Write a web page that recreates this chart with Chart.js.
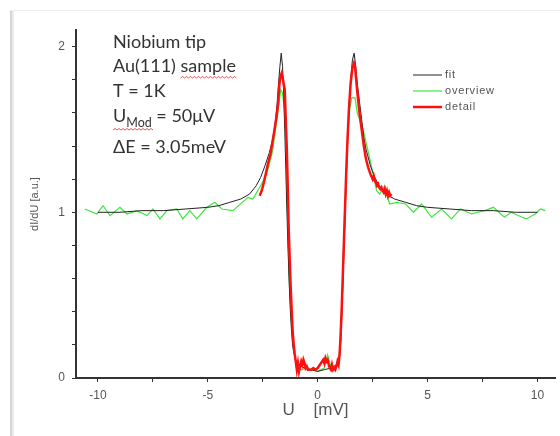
<!DOCTYPE html>
<html>
<head>
<meta charset="utf-8">
<script src="https://cdn.jsdelivr.net/npm/chart.js@4.4.0/dist/chart.umd.min.js"></script>
<style>
  html, body { margin: 0; padding: 0; background: #fff; }
  #wrap { position: relative; width: 560px; height: 436px; }
</style>
</head>
<body>
<div id="wrap"><canvas id="chart" width="560" height="436"></canvas></div>
<script>
    'use strict';

    // fit curve (black)
    var fitX = [-10, -9, -8, -7, -6, -5, -4.5, -4, -3.5, -3.1, -2.8, -2.6, -2.4, -2.2, -2.05, -1.95, -1.85, -1.78,
        -1.72, -1.66, -1.6, -1.55, -1.5, -1.45, -1.4, -1.35, -1.3, -1.25, -1.2, -1.15, -1.1, -1.0, -0.85, -0.6,
        -0.3, 0, 0.3, 0.6, 0.85, 1.0, 1.05, 1.1, 1.15, 1.2, 1.25, 1.3, 1.36, 1.42, 1.5, 1.58, 1.66, 1.73,
        1.8, 1.9, 2.0, 2.1, 2.2, 2.4, 2.6, 2.8, 3.1, 3.5, 4, 4.5, 5, 6, 7, 8, 9, 10];
    var fitY = [1.00, 1.00, 1.01, 1.01, 1.02, 1.03, 1.04, 1.06, 1.08, 1.11, 1.16, 1.21, 1.28, 1.36, 1.44, 1.52, 1.65, 1.78,
        1.88, 1.96, 1.88, 1.72, 1.50, 1.25, 1.00, 0.78, 0.58, 0.42, 0.30, 0.21, 0.16, 0.11, 0.08, 0.06,
        0.05, 0.04, 0.05, 0.06, 0.08, 0.13, 0.22, 0.38, 0.58, 0.80, 1.00, 1.20, 1.42, 1.62, 1.80, 1.92, 1.96, 1.88,
        1.78, 1.67, 1.56, 1.45, 1.38, 1.28, 1.21, 1.16, 1.11, 1.08, 1.06, 1.04, 1.03, 1.02, 1.01, 1.01, 1.00, 1.00];

    // overview measurement (green)
    var overviewX = [-10.6, -10.05, -9.77, -9.45, -9.0, -8.68, -8.23, -7.77, -7.5, -7.18, -6.86, -6.41, -6.14, -5.82,
        -5.5, -5.05, -4.68, -4.36, -3.86, -3.18, -2.95, -2.64, -2.32, -2.05, -1.82, -1.68, -1.6, -1.52, -1.45, -1.4,
        -1.35, -1.3, -1.2, -1.1, -1.0, -0.9, -0.7, -0.5, -0.3, 0, 0.3, 0.45, 0.6, 0.8, 0.95, 1.05, 1.15, 1.25, 1.35,
        1.45, 1.55, 1.7, 1.8, 2.05, 2.36, 2.68, 2.82, 3.05, 3.27, 3.6, 4.0, 4.36, 4.73, 5.18, 5.64, 6.09, 6.5, 7.0,
        7.3, 7.6, 8.0, 8.5, 8.8, 9.3, 9.5, 9.9, 10.14, 10.36];
    var overviewY = [1.02, 0.99, 1.04, 0.98, 1.03, 0.99, 1.01, 0.98, 1.02, 0.96, 1.01, 1.02, 0.96, 1.01,
        0.96, 1.03, 1.06, 1.02, 1.01, 1.09, 1.08, 1.15, 1.23, 1.37, 1.60, 1.74, 1.72, 1.62, 1.45, 1.15,
        0.85, 0.60, 0.35, 0.18, 0.10, 0.06, 0.05, 0.07, 0.05, 0.04, 0.06, 0.14, 0.07, 0.05, 0.10, 0.25, 0.60, 1.00, 1.40,
        1.62, 1.69, 1.69, 1.60, 1.51, 1.33, 1.13, 1.11, 1.16, 1.05, 1.06, 1.05, 1.00, 1.05, 0.97, 1.02, 0.96, 1.02, 0.99,
        1.00, 1.01, 1.03, 0.97, 1.00, 0.97, 0.96, 0.99, 1.02, 1.01];

    // detail measurement (red)
    var detailX = [-2.64, -2.55, -2.45, -2.35, -2.25, -2.15, -2.05, -1.95, -1.85, -1.8, -1.75, -1.7, -1.64, -1.58,
        -1.5, -1.45, -1.41, -1.36, -1.32, -1.27, -1.23, -1.18, -1.14, -1.09, -1.05, -1.0, -0.95, -0.9, -0.85, -0.8,
        -0.75, -0.7, -0.65, -0.6, -0.55, -0.5, -0.45, -0.4, -0.3, -0.2, -0.1, 0, 0.1, 0.2, 0.25, 0.3, 0.35, 0.4, 0.45,
        0.5, 0.55, 0.6, 0.65, 0.7, 0.75, 0.8, 0.85, 0.9, 0.95, 1.0, 1.05, 1.1, 1.15, 1.2, 1.25, 1.3, 1.36, 1.42, 1.5,
        1.58, 1.65, 1.7, 1.75, 1.8, 1.9, 2.0, 2.1, 2.2, 2.3, 2.4, 2.5, 2.55, 2.6, 2.65, 2.7, 2.75, 2.8, 2.85, 2.9,
        2.95, 3.0, 3.05, 3.1, 3.15, 3.2, 3.25, 3.3, 3.36];
    var detailY = [1.10, 1.13, 1.18, 1.24, 1.30, 1.35, 1.43, 1.51, 1.60, 1.66, 1.76, 1.82, 1.84, 1.80,
        1.74, 1.55, 1.40, 1.15, 0.90, 0.70, 0.55, 0.40, 0.28, 0.20, 0.15, 0.10, 0.05, 0.09, 0.04, 0.07,
        0.10, 0.08, 0.11, 0.09, 0.06, 0.07, 0.05, 0.05, 0.05, 0.06, 0.05, 0.06, 0.08, 0.10, 0.11, 0.09, 0.12, 0.10, 0.11,
        0.08, 0.06, 0.05, 0.08, 0.05, 0.06, 0.05, 0.07, 0.10, 0.08, 0.15, 0.28, 0.45, 0.65, 0.85, 1.05, 1.25, 1.45, 1.62, 1.78,
        1.87, 1.90, 1.88, 1.80, 1.73, 1.60, 1.50, 1.40, 1.32, 1.27, 1.23, 1.20, 1.22, 1.19, 1.18, 1.16, 1.17, 1.15, 1.14, 1.15,
        1.13, 1.12, 1.14, 1.11, 1.13, 1.10, 1.12, 1.10, 1.11];

    var xTicks = [-10, -7.5, -5, -2.5, 0, 2.5, 5, 7.5, 10];
    var yTicks = [0, 0.2, 0.4, 0.6, 0.8, 1, 1.2, 1.4, 1.6, 1.8, 2];

    var noteLines = ['Niobium tip', 'Au(111) sample', 'T = 1K', '', '\u0394E = 3.05meV'];

    function toPoints(xs, ys) {
        return xs.map(function (x, i) {
            return {x: x, y: ys[i]};
        });
    }

    var axisColor = '#333';
    var labelColor = '#555';

    // page frame: light border on the left and top
    var framePlugin = {
        id: 'frame',
        beforeDraw: function (chart) {
            var ctx = chart.ctx;
            ctx.save();
            ctx.fillStyle = '#fff';
            ctx.fillRect(0, 0, chart.width, chart.height);
            ctx.fillStyle = '#d6d6d6';
            ctx.fillRect(10, 10, 2, chart.height - 10);
            ctx.fillStyle = '#ececec';
            ctx.fillRect(12, 10, 2, chart.height - 10);
            ctx.fillRect(10, 10, chart.width - 10, 1);
            ctx.restore();
        }
    };

    function squiggle(ctx, x0, x1, y) {
        ctx.beginPath();
        ctx.moveTo(x0, y);
        for (var x = x0, up = true; x < x1; x += 2, up = !up) {
            ctx.lineTo(x + 2, up ? y - 1.5 : y);
        }
        ctx.stroke();
    }

    // text box and legend
    var notesPlugin = {
        id: 'notes',
        afterDraw: function (chart) {
            var ctx = chart.ctx;
            var font = '18px Lato';
            ctx.save();
            ctx.fillStyle = '#333';
            ctx.textBaseline = 'alphabetic';
            ctx.textAlign = 'left';
            ctx.font = font;
            ctx.fillText(noteLines[0], 113, 48);
            ctx.fillText(noteLines[1], 113, 72);
            ctx.fillText(noteLines[2], 113, 97);
            ctx.fillText('U', 113, 122);
            var uw = ctx.measureText('U').width;
            ctx.font = '12.5px Lato';
            ctx.fillText('Mod', 113 + uw, 127);
            var mw = ctx.measureText('Mod').width;
            ctx.font = font;
            ctx.fillText(' = 50\u03bcV', 113 + uw + mw, 122);
            ctx.fillText(noteLines[4], 113, 153);

            var sw = ctx.measureText('Au(111) ').width;
            var sw2 = ctx.measureText('Au(111) sample').width;
            ctx.strokeStyle = '#e03030';
            ctx.lineWidth = 0.8;
            squiggle(ctx, 113 + sw, 113 + sw2, 78);
            squiggle(ctx, 113, 113 + uw + mw, 130);

            // legend
            var lx = 413, ly = 75;
            ctx.font = '11px "Liberation Sans"';
            ctx.textBaseline = 'middle';
            chart.data.datasets.forEach(function (ds, i) {
                var y = ly + i * 16;
                ctx.strokeStyle = ds.borderColor;
                ctx.lineWidth = ds.borderWidth;
                ctx.beginPath();
                ctx.moveTo(lx, y);
                ctx.lineTo(lx + 29, y);
                ctx.stroke();
                ctx.fillStyle = '#555';
                ctx.letterSpacing = '0.8px';
                ctx.fillText(ds.label, lx + 32, y);
            });
            ctx.restore();
        }
    };

    new Chart(document.getElementById('chart').getContext('2d'), {
        type: 'scatter',
        data: {
            datasets: [
                {
                    label: 'fit',
                    data: toPoints(fitX, fitY),
                    borderColor: '#222',
                    borderWidth: 1,
                    order: 2
                },
                {
                    label: 'overview',
                    data: toPoints(overviewX, overviewY),
                    borderColor: '#3de83d',
                    borderWidth: 1.2,
                    order: 3
                },
                {
                    label: 'detail',
                    data: toPoints(detailX, detailY),
                    borderColor: '#ff1010',
                    borderWidth: 2.5,
                    order: 1
                }
            ]
        },
        options: {
            responsive: false,
            animation: false,
            devicePixelRatio: 1,
            showLine: true,
            elements: {
                point: {radius: 0},
                line: {tension: 0}
            },
            layout: {
                padding: {top: 30, right: 5, left: 0, bottom: 0}
            },
            plugins: {
                legend: {display: false},
                tooltip: {enabled: false}
            },
            scales: {
                x: {
                    type: 'linear',
                    min: -11,
                    max: 10.8,
                    afterBuildTicks: function (scale) {
                        scale.ticks = xTicks.map(function (v) {
                            return {value: v};
                        });
                    },
                    afterFit: function (scale) {
                        scale.height = 58;
                    },
                    border: {display: true, color: axisColor, width: 2},
                    grid: {drawOnChartArea: false, drawTicks: true, tickLength: 4, color: axisColor},
                    ticks: {
                        color: labelColor,
                        font: {family: 'Liberation Sans', size: 12},
                        padding: 6,
                        maxRotation: 0,
                        autoSkip: false,
                        callback: function (v) {
                            return v % 5 === 0 ? String(v) : '';
                        }
                    },
                    title: {
                        display: true,
                        text: 'U    [mV]',
                        color: labelColor,
                        font: {family: 'Liberation Sans', size: 17},
                        padding: {top: 0, bottom: 15}
                    }
                },
                y: {
                    type: 'linear',
                    min: 0,
                    max: 2.1,
                    afterBuildTicks: function (scale) {
                        scale.ticks = yTicks.map(function (v) {
                            return {value: v};
                        });
                    },
                    afterFit: function (scale) {
                        scale.width = 76;
                    },
                    border: {display: true, color: axisColor, width: 2},
                    grid: {drawOnChartArea: false, drawTicks: true, tickLength: 4, color: axisColor},
                    ticks: {
                        color: labelColor,
                        font: {family: 'Liberation Sans', size: 12},
                        padding: 7,
                        autoSkip: false,
                        callback: function (v) {
                            return Math.abs(v - Math.round(v)) < 1e-6 ? String(Math.round(v)) : '';
                        }
                    },
                    title: {
                        display: true,
                        text: 'dI/dU [a.u.]',
                        color: labelColor,
                        font: {family: 'Liberation Sans', size: 11},
                        padding: {top: 28, bottom: 0}
                    }
                }
            }
        },
        plugins: [framePlugin, notesPlugin]
    });
</script>
</body>
</html>
